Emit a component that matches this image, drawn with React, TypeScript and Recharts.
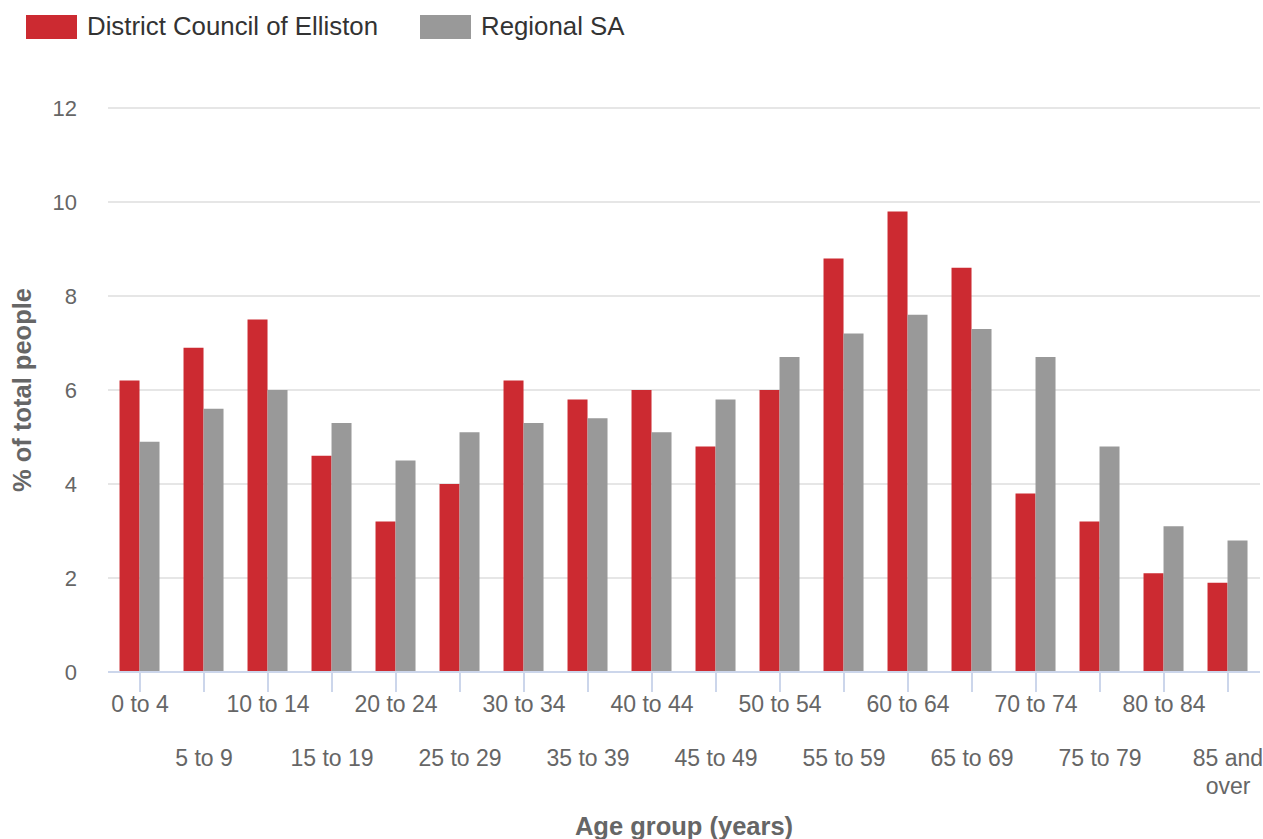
import { BarChart, Bar, XAxis, YAxis, CartesianGrid, Label } from "recharts";

const ageGroups = [
  "0 to 4", "5 to 9", "10 to 14", "15 to 19", "20 to 24", "25 to 29",
  "30 to 34", "35 to 39", "40 to 44", "45 to 49", "50 to 54", "55 to 59",
  "60 to 64", "65 to 69", "70 to 74", "75 to 79", "80 to 84", "85 and over",
];
const ellistonPct = [6.2, 6.9, 7.5, 4.6, 3.2, 4.0, 6.2, 5.8, 6.0, 4.8, 6.0, 8.8, 9.8, 8.6, 3.8, 3.2, 2.1, 1.9];
const regionalPct = [4.9, 5.6, 6.0, 5.3, 4.5, 5.1, 5.3, 5.4, 5.1, 5.8, 6.7, 7.2, 7.6, 7.3, 6.7, 4.8, 3.1, 2.8];
const yTicks = [0, 2, 4, 6, 8, 10, 12];

const RED = "#cc2a31";
const GREY = "#999999";
const FONT = "Arial, 'Liberation Sans', Helvetica, sans-serif";

const data = ageGroups.map((age, i) => ({
  age,
  elliston: ellistonPct[i],
  regional: regionalPct[i],
}));

// alternate tick rows so the labels don't collide; long labels wrap
function AgeTick(props: any) {
  const { x, y, payload, index } = props;
  const value: string = payload.value;
  const cut = value.lastIndexOf(" ");
  const lines = value.length > 8 ? [value.slice(0, cut), value.slice(cut + 1)] : [value];
  const offset = index % 2 === 0 ? 18 : 72;
  return (
    <text x={x} y={y + offset} textAnchor="middle" fill="#666666" fontSize={23} fontFamily={FONT}>
      {lines.map((l, i) => (
        <tspan key={i} x={x} dy={i === 0 ? 0 : 28}>
          {l}
        </tspan>
      ))}
    </text>
  );
}

function LegendItem({ color, text }: { color: string; text: string }) {
  return (
    <span style={{ display: "inline-flex", alignItems: "center", marginRight: 42 }}>
      <span style={{ width: 51, height: 24, background: color, display: "inline-block", marginRight: 10 }} />
      <span style={{ color: "#333333", fontSize: 25.8, fontFamily: FONT }}>{text}</span>
    </span>
  );
}

export default function App() {
  return (
    <div style={{ position: "absolute", left: 0, top: 0, width: 1263, height: 839, background: "#fff" }}>
      <div style={{ position: "absolute", left: 26, top: 12, display: "flex", zIndex: 2 }}>
        <LegendItem color={RED} text="District Council of Elliston" />
        <LegendItem color={GREY} text="Regional SA" />
      </div>
      <BarChart
        width={1263}
        height={839}
        data={data}
        margin={{ top: 108, right: 3, left: 0, bottom: 0 }}
        barCategoryGap="18%"
        barGap={0}
      >
        <CartesianGrid vertical={false} stroke="#e6e6e6" strokeWidth={2} />
        <XAxis
          dataKey="age"
          interval={0}
          height={167}
          tickSize={20}
          tickMargin={2}
          stroke="#ccd6eb"
          strokeWidth={2}
          tick={<AgeTick />}
        >
          <Label
            content={({ viewBox }: any) => (
              <text
                x={viewBox.x + viewBox.width / 2}
                y={835}
                textAnchor="middle"
                fill="#666666"
                fontSize={25.5}
                fontWeight="bold"
                fontFamily={FONT}
              >
                Age group (years)
              </text>
            )}
          />
        </XAxis>
        <YAxis
          domain={[0, 12]}
          ticks={yTicks}
          width={108}
          axisLine={false}
          tickLine={false}
          tickSize={0}
          tickMargin={31}
          tick={{ fill: "#666666", fontSize: 22, fontFamily: FONT }}
        >
          <Label
            content={({ viewBox }: any) => {
              const cx = 31;
              const cy = viewBox.y + viewBox.height / 2;
              return (
                <text
                  x={cx}
                  y={cy}
                  transform={`rotate(-90 ${cx} ${cy})`}
                  textAnchor="middle"
                  fill="#666666"
                  fontSize={25.5}
                  fontWeight="bold"
                  fontFamily={FONT}
                >
                  % of total people
                </text>
              );
            }}
          />
        </YAxis>
        <Bar dataKey="elliston" name="District Council of Elliston" fill={RED} isAnimationActive={false} />
        <Bar dataKey="regional" name="Regional SA" fill={GREY} isAnimationActive={false} />
      </BarChart>
    </div>
  );
}
